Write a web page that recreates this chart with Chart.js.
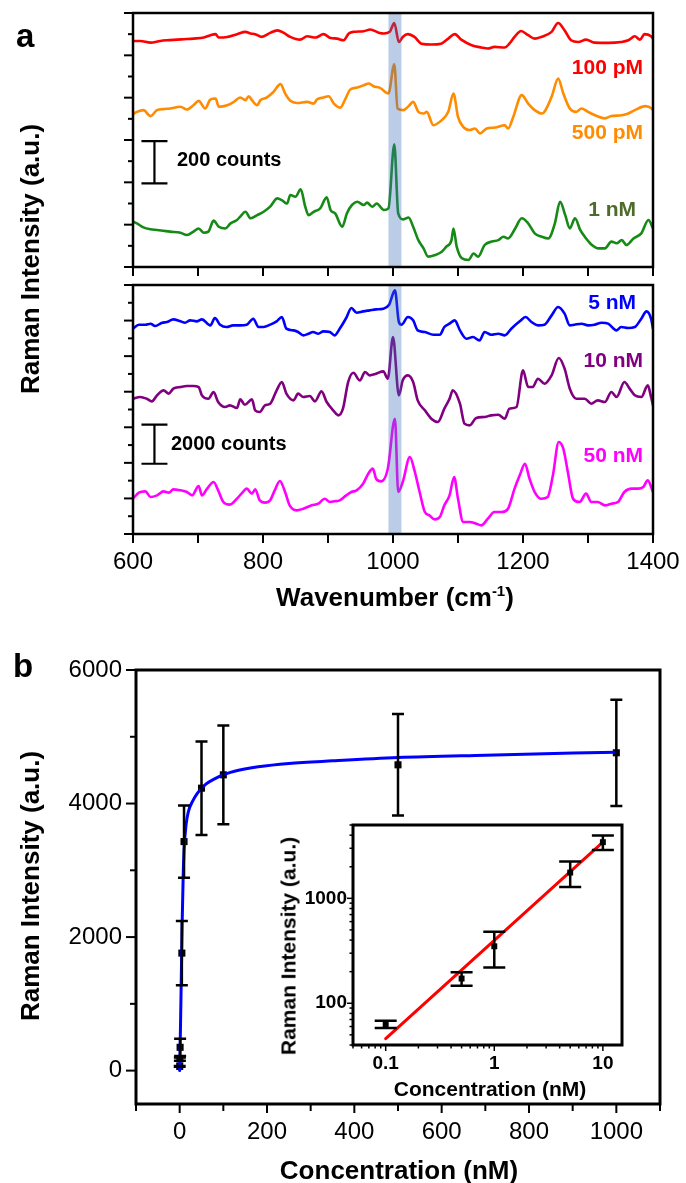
<!DOCTYPE html>
<html>
<head>
<meta charset="utf-8">
<script src="https://cdn.jsdelivr.net/npm/chart.js@4.4.1/dist/chart.umd.min.js"></script>
<style>
html,body{margin:0;padding:0;background:#ffffff;}
body{position:relative;width:686px;height:1183px;overflow:hidden;font-family:"Liberation Sans",Arial,Helvetica,sans-serif;color:#000;}
canvas{position:absolute;left:0;}
.t{position:absolute;white-space:nowrap;font-weight:bold;line-height:1;}
.c{transform:translate(-50%,-50%);}
.r{transform:translate(-50%,-50%) rotate(-90deg);}
.rt{transform:translateY(-50%);}
</style>
</head>
<body>
<canvas id="cA1" width="760" height="284" style="top:0px"></canvas>
<canvas id="cA2" width="760" height="340" style="top:278px"></canvas>
<canvas id="cB" width="760" height="543" style="top:640px"></canvas>
<canvas id="cI" width="380" height="300" style="left:250px;top:805px"></canvas>

<div class="t" style="left:16px;top:19px;font-size:33px;">a</div>
<div class="t" style="left:13px;top:649px;font-size:33px;">b</div>
<div class="t r" style="left:30px;top:259px;font-size:26px;">Raman Intensity (a.u.)</div>
<div class="t c" style="left:395px;top:597px;font-size:26px;">Wavenumber (cm<span style="font-size:15px;position:relative;top:-10px;">-1</span>)</div>
<div class="t rt" style="left:177px;top:159px;font-size:20px;">200 counts</div>
<div class="t rt" style="left:171px;top:443px;font-size:20px;">2000 counts</div>
<div class="t rt" style="right:43px;top:66px;font-size:21px;color:#ff0000;">100 pM</div>
<div class="t rt" style="right:43px;top:131px;font-size:21px;color:#ff8c00;">500 pM</div>
<div class="t rt" style="right:50px;top:208px;font-size:21px;color:#4d6b2a;">1 nM</div>
<div class="t rt" style="right:50px;top:301px;font-size:21px;color:#0000ff;">5 nM</div>
<div class="t rt" style="right:43px;top:359px;font-size:21px;color:#800080;">10 nM</div>
<div class="t rt" style="right:43px;top:454px;font-size:21px;color:#ff00ff;">50 nM</div>
<div class="t r" style="left:30px;top:886px;font-size:26px;">Raman Intensity (a.u.)</div>
<div class="t c" style="left:399px;top:1170px;font-size:26px;">Concentration (nM)</div>
<div class="t r" style="left:288px;top:946px;font-size:21px;">Raman Intensity (a.u.)</div>
<div class="t c" style="left:490px;top:1088px;font-size:21px;">Concentration (nM)</div>

<script>
// ---------------- DATA ----------------
const wnRed = [600,611,627,642,652,668,678,693,709,719,727,732,745,760,773,781,788,798,811,822,832,842,857,868,881,893,904,914,924,932,939,955,965,978,986,995,1002,1009,1015,1023,1033,1044,1059,1074,1085,1095,1105,1121,1136,1146,1156,1172,1179,1187,1197,1208,1218,1228,1244,1254,1264,1274,1285,1297,1310,1331,1351,1362,1372,1380,1387,1397,1400];
const intRed = [1068,1068,1060,1068,1071,1074,1076,1079,1084,1095,1100,1084,1087,1100,1111,1103,1100,1087,1106,1118,1106,1087,1074,1090,1084,1100,1082,1079,1071,1103,1111,1114,1122,1107,1103,1111,1153,1063,1087,1100,1087,1055,1051,1055,1079,1100,1074,1048,1037,1032,1040,1037,1055,1087,1115,1095,1079,1087,1111,1153,1118,1071,1063,1074,1060,1059,1063,1071,1090,1074,1100,1090,1079];

const wnOrange = [600,606,616,627,637,647,657,673,683,693,701,711,719,727,732,745,755,765,773,778,783,791,796,806,816,827,834,842,852,868,878,883,893,901,909,919,927,934,945,955,963,970,980,993,1002,
  1007,1016,1024,1031,1039,1047,1052,1062,1075,1085,1093,1100,1108,1118,1126,1134,1144,1157,1172,1177,1185,1198,1208,1218,1229,1244,1254,1262,1272,1282,1290,1300,1311,1326,1336,1352,1362,1372,1388,1398,1400];
const intOrange = [722,733,741,713,741,746,749,757,744,764,785,749,791,796,757,764,780,801,788,807,788,764,788,801,827,864,820,785,775,780,772,791,801,807,772,753,796,838,848,859,867,854,846,820,958,
  749,741,760,780,733,725,733,670,694,733,820,709,662,647,654,631,654,659,670,654,709,812,772,741,725,804,890,820,749,733,749,733,717,702,713,717,725,741,760,749,741];

const wnGreen = [600,606,616,627,637,647,657,673,683,693,701,709,716,724,732,742,750,760,765,773,781,791,801,811,822,829,837,842,850,858,865,870,878,888,898,904,911,922,929,937,945,955,960,968,975,986,993,1002,
  1008,1016,1024,1031,1039,1047,1054,1065,1075,1082,1090,1093,1098,1106,1116,1124,1131,1141,1152,1162,1170,1177,1188,1198,1208,1218,1229,1239,1249,1257,1265,1272,1280,1288,1295,1306,1316,1326,1336,1344,1352,1359,1370,1382,1393,1400];
const intGreen = [214,206,187,178,175,171,167,162,151,167,182,162,167,219,190,182,206,222,238,261,230,245,261,285,324,316,300,340,332,367,285,245,261,277,329,269,253,190,253,293,308,293,304,285,300,269,277,580,
  253,225,234,190,127,88,49,57,72,96,127,182,96,41,33,64,49,104,120,127,143,135,182,230,206,159,143,135,206,308,245,182,230,175,143,104,88,88,120,112,127,104,135,159,222,182];

const wnBlue = [600,609,619,627,634,645,652,662,673,680,688,698,706,719,726,734,744,754,765,775,785,793,801,811,821,829,836,847,854,862,870,877,885,893,903,910,918,928,936,944,954,964,974,985,994,1003,
  1009,1013,1023,1031,1038,1049,1062,1072,1079,1087,1095,1103,1113,1123,1133,1141,1151,1162,1172,1182,1195,1204,1213,1223,1233,1244,1254,1264,1272,1279,1290,1300,1310,1321,1331,1344,1351,1362,1372,1382,1390,1397,1400];
const intBlue = [11544,11769,11769,11825,11694,11881,11919,12069,11956,11881,12012,11956,12069,11731,12144,11769,11638,11731,11731,11769,12106,11638,11638,11769,11956,12200,11544,11450,11356,11169,11263,11356,11263,11394,11356,11169,11544,12144,12706,12443,12518,12575,12631,12668,12893,13699,
  11919,11769,12200,12012,11450,11356,11206,11206,11638,11825,12012,11450,10982,11075,10888,11356,11206,11263,11169,11544,11956,12200,11919,11731,11769,12293,12762,12387,11731,11769,11825,11731,11769,11881,11825,11450,11638,11581,11638,12106,12518,12106,11544];

const wnPurple = [600,611,621,629,637,647,655,662,673,683,693,701,706,716,724,731,742,749,760,765,772,783,788,795,803,811,821,829,836,847,854,862,872,880,890,898,908,916,923,931,939,949,957,964,974,985,992,1000,
  1009,1015,1023,1031,1038,1049,1059,1069,1079,1087,1092,1103,1110,1118,1128,1141,1151,1162,1172,1179,1190,1200,1208,1215,1223,1233,1244,1255,1264,1272,1282,1295,1305,1315,1326,1336,1344,1356,1364,1372,1382,1392,1397,1400];
const intPurple = [7608,7702,7608,7459,7796,8077,7890,8171,8264,8321,8321,8264,7796,7608,7983,7421,7140,7234,7084,7571,7271,7571,6953,6859,7234,7327,8077,8545,7890,7515,7890,7702,7758,7459,8021,7421,6953,6671,7046,8545,9070,8639,9108,8920,9014,9145,8733,11075,
  7796,8639,8920,8545,7515,6953,6484,6297,7046,7608,8077,7327,6203,6109,6522,6578,6671,6709,6484,7046,7140,9201,8264,8264,8733,8452,8920,9895,9295,8171,7608,7608,7327,7515,7421,7983,7702,8545,8171,7796,7702,8358,7702,7234];

const wnMagenta = [600,609,619,627,637,647,655,662,673,683,691,701,706,714,724,731,739,749,760,770,775,783,788,795,803,811,818,826,834,841,852,862,875,885,895,903,910,918,928,936,944,954,962,969,974,982,992,1003,
  1008,1015,1026,1033,1041,1049,1056,1064,1072,1079,1087,1094,1100,1108,1118,1128,1136,1146,1156,1167,1177,1187,1195,1203,1210,1218,1228,1238,1246,1255,1262,1269,1277,1287,1297,1305,1315,1326,1336,1346,1356,1367,1377,1385,1392,1400];
const intMagenta = [1986,2324,2399,2080,2174,2399,2324,2511,2455,2361,2174,2699,2174,2549,2923,2455,1799,1649,1986,2399,2549,2268,2511,1893,1762,1893,2455,2980,2361,1612,1331,1424,1612,1705,1986,1799,1837,1893,2174,2361,2455,2830,3392,3673,3111,2961,3673,6484,
  2361,2923,4329,3579,2361,1237,1049,825,956,1612,2174,3205,1986,675,675,581,487,862,1237,1237,1424,2549,3298,3954,3111,2361,1986,2080,3298,5172,4797,3486,1986,1799,2268,1799,1799,1612,1705,1799,2361,2549,2549,2642,3017,2361];

const concentration = [0.1, 0.5, 1, 5, 10, 50, 100, 500, 1000];
const intensityMean = [63, 172, 349, 1760, 3430, 4230, 4430, 4580, 4760];
const intensityErr  = [5, 25, 130, 480, 540, 700, 740, 760, 795];

const fitConc = [0,1,2,4,6,8,10,15,20,30,40,60,80,100,130,180,250,350,500,700,1000];
const fitIntensity = [0,350,700,1500,2300,2900,3300,3700,3880,4040,4150,4290,4370,4430,4490,4550,4600,4640,4690,4725,4770];

const insetFitConc = [0.1, 10];
const insetFitIntensity = [46, 3430];

const wnTickLabels = [600, 800, 1000, 1200, 1400];
const concTickLabels = [0, 200, 400, 600, 800, 1000];
const intTickLabels = [0, 2000, 4000, 6000];
const insetXTickLabels = [0.1, 1, 10];
const insetYTickLabels = [100, 1000];
const bandRange = [993, 1013];
const scaleBarTop = [395, 595];       // "200 counts"
const scaleBarBottom = [3950, 6150];  // "2000 counts"

// ---------------- HELPERS ----------------
Chart.defaults.font.family = "'Liberation Sans', Arial, Helvetica, sans-serif";
Chart.defaults.color = '#000';

function lineDS(xs, ys, color, w, extra) {
  return Object.assign({
    data: xs.map((x, i) => ({x: x, y: ys[i]})),
    showLine: true, borderColor: color, backgroundColor: color,
    borderWidth: w, pointRadius: 0, tension: 0, borderJoinStyle: 'round', borderCapStyle: 'round', fill: false
  }, extra || {});
}
function framePlugin(w) {
  return {id: 'frame', afterDraw(chart) {
    const a = chart.chartArea, ctx = chart.ctx;
    ctx.save(); ctx.strokeStyle = '#000'; ctx.lineWidth = w;
    ctx.strokeRect(a.left, a.top, a.right - a.left, a.bottom - a.top);
    ctx.restore();
  }};
}
function tickPlugin(axes) {
  return {id: 'tickMarks', afterDraw(chart) {
    const ctx = chart.ctx, a = chart.chartArea;
    ctx.save(); ctx.strokeStyle = '#000';
    Object.keys(axes).forEach(id => {
      const s = chart.scales[id], c = axes[id];
      ctx.lineWidth = c.w;
      s.ticks.forEach((t, i) => {
        const p = s.getPixelForValue(t.value), len = c.len(t, i);
        ctx.beginPath();
        if (s.isHorizontal()) { ctx.moveTo(p, a.bottom); ctx.lineTo(p, a.bottom + len); }
        else { ctx.moveTo(a.left, p); ctx.lineTo(a.left - len, p); }
        ctx.stroke();
      });
    });
    ctx.restore();
  }};
}
function bandPlugin(range, color) {
  return {id: 'band', afterDatasetsDraw(chart) {
    const ctx = chart.ctx, a = chart.chartArea, x = chart.scales.x;
    const x0 = x.getPixelForValue(range[0]), x1 = x.getPixelForValue(range[1]);
    ctx.save(); ctx.fillStyle = color;
    ctx.fillRect(x0, a.top, x1 - x0, a.bottom - a.top);
    ctx.restore();
  }};
}
function scaleBarPlugin(xv, yr, half, w) {
  return {id: 'scaleBar', afterDatasetsDraw(chart) {
    const ctx = chart.ctx, x = chart.scales.x, y = chart.scales.y;
    const px = x.getPixelForValue(xv), p0 = y.getPixelForValue(yr[0]), p1 = y.getPixelForValue(yr[1]);
    ctx.save(); ctx.strokeStyle = '#000'; ctx.lineWidth = w;
    ctx.beginPath();
    ctx.moveTo(px, p0); ctx.lineTo(px, p1);
    ctx.moveTo(px - half, p0); ctx.lineTo(px + half, p0);
    ctx.moveTo(px - half, p1); ctx.lineTo(px + half, p1);
    ctx.stroke(); ctx.restore();
  }};
}
function errorBarPlugin(xs, ys, es, cap, w) {
  return {id: 'errorBars', afterDatasetsDraw(chart) {
    const ctx = chart.ctx, x = chart.scales.x, y = chart.scales.y;
    ctx.save(); ctx.strokeStyle = '#000'; ctx.lineWidth = w;
    xs.forEach((xv, i) => {
      const px = x.getPixelForValue(xv);
      const lo = y.getPixelForValue(ys[i] - es[i]), hi = y.getPixelForValue(ys[i] + es[i]);
      ctx.beginPath();
      ctx.moveTo(px, lo); ctx.lineTo(px, hi);
      ctx.moveTo(px - cap, lo); ctx.lineTo(px + cap, lo);
      ctx.moveTo(px - cap, hi); ctx.lineTo(px + cap, hi);
      ctx.stroke();
    });
    ctx.restore();
  }};
}
function whiteArea() {
  return {id: 'whiteArea', beforeDraw(chart) {
    const a = chart.chartArea, ctx = chart.ctx;
    ctx.save(); ctx.fillStyle = '#fff';
    ctx.fillRect(a.left, a.top, a.right - a.left, a.bottom - a.top);
    ctx.restore();
  }};
}
const noGrid = {display: false, drawTicks: false};
const baseOpts = {responsive: false, animation: false, devicePixelRatio: 1,
  plugins: {legend: {display: false}, tooltip: {enabled: false}}};
const spec = {cubicInterpolationMode: 'monotone'};
const bandColor = 'rgba(60,110,185,0.35)';

// ---------------- PANEL a (top) ----------------
new Chart(document.getElementById('cA1'), {
  type: 'scatter',
  data: {datasets: [
    lineDS(wnRed, intRed, '#ff0000', 2.6, spec),
    lineDS(wnOrange, intOrange, '#ff8c00', 2.6, spec),
    lineDS(wnGreen, intGreen, '#168a16', 2.6, spec)
  ]},
  options: Object.assign({}, baseOpts, {
    layout: {padding: {left: 0, right: 760 - 653, top: 13, bottom: 0}},
    scales: {
      x: {type: 'linear', min: 600, max: 1400, ticks: {stepSize: 100, display: false}, grid: noGrid, border: {display: false},
          afterFit: s => { s.height = 284 - 267; }},
      y: {type: 'linear', min: 0, max: 1200, ticks: {stepSize: 100, display: false}, grid: noGrid, border: {display: false},
          afterFit: s => { s.width = 133; }}
    }
  }),
  plugins: [bandPlugin(bandRange, bandColor), scaleBarPlugin(633, scaleBarTop, 13, 2.2), framePlugin(2.5),
    tickPlugin({x: {w: 2, len: () => 9}, y: {w: 2, len: t => (t.value % 200 === 0 ? 9 : 5)}})]
});

// ---------------- PANEL a (bottom) ----------------
new Chart(document.getElementById('cA2'), {
  type: 'scatter',
  data: {datasets: [
    lineDS(wnBlue, intBlue, '#0000ff', 2.6, spec),
    lineDS(wnPurple, intPurple, '#800080', 2.6, spec),
    lineDS(wnMagenta, intMagenta, '#ff00ff', 2.6, spec)
  ]},
  options: Object.assign({}, baseOpts, {
    layout: {padding: {left: 0, right: 760 - 653, top: 7, bottom: 0}},
    scales: {
      x: {type: 'linear', min: 600, max: 1400,
          ticks: {stepSize: 100, autoSkip: false, maxRotation: 0, padding: 14, font: {size: 24},
                  callback: v => (wnTickLabels.includes(v) ? String(v) : '')},
          grid: noGrid, border: {display: false}, afterFit: s => { s.height = 340 - 256; }},
      y: {type: 'linear', min: 0, max: 14000, ticks: {stepSize: 1000, display: false}, grid: noGrid, border: {display: false},
          afterFit: s => { s.width = 133; }}
    }
  }),
  plugins: [bandPlugin(bandRange, bandColor), scaleBarPlugin(633, scaleBarBottom, 13, 2.2), framePlugin(2.5),
    tickPlugin({x: {w: 2, len: () => 9}, y: {w: 2, len: t => (t.value % 2000 === 0 ? 9 : 5)}})]
});

// ---------------- PANEL b (main) ----------------
new Chart(document.getElementById('cB'), {
  type: 'scatter',
  data: {datasets: [
    lineDS(fitConc, fitIntensity, '#0000ff', 3, {cubicInterpolationMode: 'monotone'}),
    {data: concentration.map((x, i) => ({x: x, y: intensityMean[i]})), pointStyle: 'rect', pointRadius: 5,
     backgroundColor: '#000', borderColor: '#000', borderWidth: 0, showLine: false}
  ]},
  options: Object.assign({}, baseOpts, {
    layout: {padding: {left: 0, right: 760 - 660, top: 30, bottom: 0}},
    scales: {
      x: {type: 'linear', min: -100, max: 1100,
          ticks: {stepSize: 100, autoSkip: false, maxRotation: 0, padding: 14, font: {size: 24},
                  callback: v => (concTickLabels.includes(v) ? String(v) : '')},
          grid: noGrid, border: {display: false}, afterFit: s => { s.height = 543 - 464; }},
      y: {type: 'linear', min: -500, max: 6000,
          afterBuildTicks: s => { s.ticks = [0, 1000, 2000, 3000, 4000, 5000, 6000].map(v => ({value: v})); },
          ticks: {autoSkip: false, padding: 14, font: {size: 24},
                  callback: v => (intTickLabels.includes(v) ? String(v) : '')},
          grid: noGrid, border: {display: false}, afterFit: s => { s.width = 136; }}
    }
  }),
  plugins: [errorBarPlugin(concentration, intensityMean, intensityErr, 6, 2.5), framePlugin(3),
    tickPlugin({x: {w: 2, len: t => (t.value % 200 === 0 ? 9 : 7)}, y: {w: 2, len: t => (t.value % 2000 === 0 ? 10 : 6)}})]
});

// ---------------- PANEL b (inset) ----------------
function logTicks(min, max) {
  const out = [];
  for (let e = -3; e <= 4; e++) {
    for (let m = 1; m <= 9; m++) {
      const vv = parseFloat((m * Math.pow(10, e)).toPrecision(6));
      if (vv >= min * 0.9999 && vv <= max * 1.0001) out.push({value: vv, major: m === 1});
    }
  }
  return out;
}
const nIn = 5;
new Chart(document.getElementById('cI'), {
  type: 'scatter',
  data: {datasets: [
    {data: concentration.slice(0, nIn).map((x, i) => ({x: x, y: intensityMean[i]})), pointStyle: 'rect', pointRadius: 4.2,
     backgroundColor: '#000', borderColor: '#000', borderWidth: 0, showLine: false},
    lineDS(insetFitConc, insetFitIntensity, '#ff0000', 3)
  ]},
  options: Object.assign({}, baseOpts, {
    layout: {padding: {left: 0, right: 380 - 372, top: 20, bottom: 0}},
    scales: {
      x: {type: 'logarithmic', min: 0.05, max: 15,
          afterBuildTicks: s => { s.ticks = logTicks(0.05, 15); },
          ticks: {autoSkip: false, maxRotation: 0, padding: 7, font: {size: 19, weight: 'bold'},
                  callback: (v) => (insetXTickLabels.includes(v) ? String(v) : '')},
          grid: noGrid, border: {display: false}, afterFit: s => { s.height = 300 - 240; }},
      y: {type: 'logarithmic', min: 40, max: 5000,
          afterBuildTicks: s => { s.ticks = logTicks(40, 5000); },
          ticks: {autoSkip: false, padding: 6, font: {size: 19, weight: 'bold'},
                  callback: (v) => (insetYTickLabels.includes(v) ? String(v) : '')},
          grid: noGrid, border: {display: false}, afterFit: s => { s.width = 103; }}
    }
  }),
  plugins: [whiteArea(), errorBarPlugin(concentration.slice(0, nIn), intensityMean.slice(0, nIn), intensityErr.slice(0, nIn), 11, 2.5),
    framePlugin(3),
    tickPlugin({x: {w: 1.5, len: t => (t.major ? 6 : 3.5)}, y: {w: 1.5, len: t => (t.major ? 6 : 3.5)}})]
});
</script>
</body>
</html>
